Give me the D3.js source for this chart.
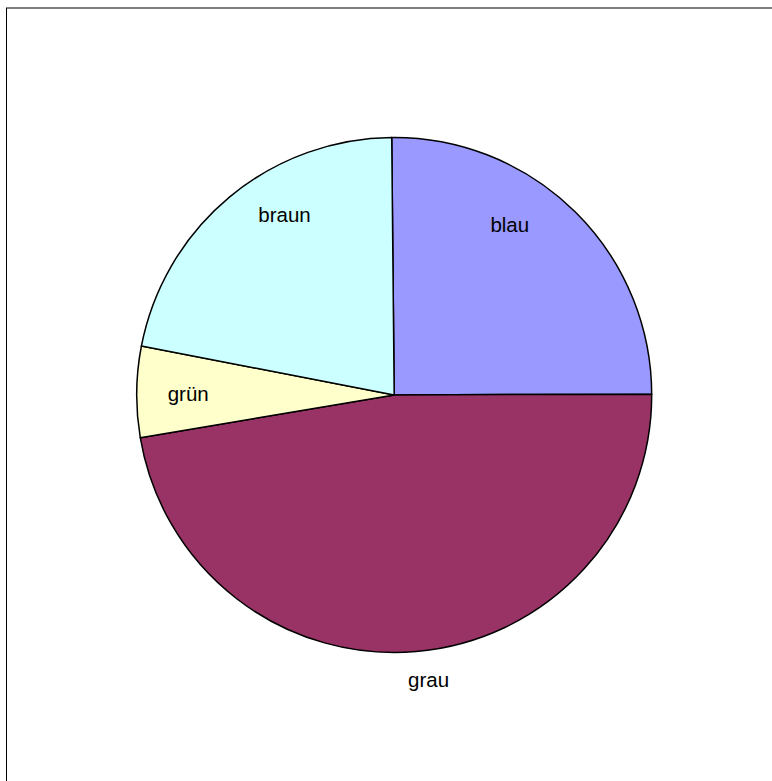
<!DOCTYPE html>
<html>
<head>
<meta charset="utf-8">
<script src="https://cdn.jsdelivr.net/npm/d3@7"></script>
<style>
  html, body { margin: 0; padding: 0; background: #fff; }
  svg { display: block; }
  text { font-family: "Liberation Sans", Arial, sans-serif; }
</style>
</head>
<body>
<svg id="chart" width="772" height="781"></svg>
<script>
// Data (clockwise from 12 o'clock), in percent
const categories = ["blau", "grau", "grün", "braun"];
const values = [25.1, 47.4, 5.7, 21.8];
const colors = ["#9999FF", "#993366", "#FFFFCC", "#CCFFFF"];

// Label placement (radius as fraction of pie radius, angle shift in degrees)
const labelRadius = [0.80, 1.115, 0.80, 0.82];
const labelShift = [-10.5, -2, -0.5, 8.5];

const svg = d3.select("#chart");
const cx = 394.2, cy = 395, radius = 257.5;

// Outer frame (right/bottom edges run off the picture)
svg.append("rect")
    .attr("x", 6.5)
    .attr("y", 8)
    .attr("width", 900)
    .attr("height", 900)
    .attr("fill", "none")
    .attr("stroke", "#000")
    .attr("stroke-width", 1);

const pie = d3.pie()
    .sort(null)
    .value(d => d.value)
    .startAngle(-0.0096)
    .endAngle(2 * Math.PI - 0.0096);

const data = categories.map((c, i) => ({ name: c, value: values[i], color: colors[i], i }));
const arcs = pie(data);

const arc = d3.arc().innerRadius(0).outerRadius(radius);

const g = svg.append("g").attr("transform", `translate(${cx},${cy})`);

g.selectAll("path")
    .data(arcs)
    .join("path")
    .attr("d", arc)
    .attr("fill", d => d.data.color)
    .attr("stroke", "#000")
    .attr("stroke-width", 1.5)
    .attr("stroke-linejoin", "round");

function labelPos(d) {
    const a = (d.startAngle + d.endAngle) / 2 + labelShift[d.data.i] * Math.PI / 180;
    const r = radius * labelRadius[d.data.i];
    return [Math.sin(a) * r, -Math.cos(a) * r];
}

g.selectAll("text")
    .data(arcs)
    .join("text")
    .attr("x", d => labelPos(d)[0])
    .attr("y", d => labelPos(d)[1])
    .attr("dy", "0.35em")
    .attr("text-anchor", "middle")
    .attr("font-size", 20.5)
    .attr("fill", "#000")
    .text(d => d.data.name);
</script>
</body>
</html>
